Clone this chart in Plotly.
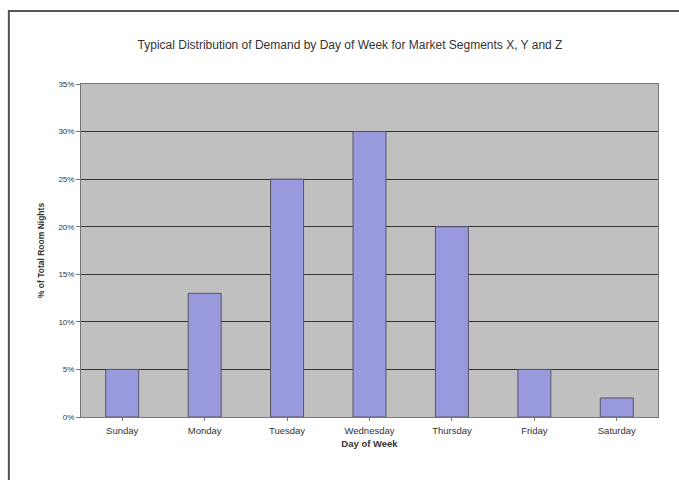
import plotly.graph_objects as go

# Share of total room nights by day of week
days = ["Sunday", "Monday", "Tuesday", "Wednesday", "Thursday", "Friday", "Saturday"]
share = [0.05, 0.13, 0.25, 0.30, 0.20, 0.05, 0.02]
tick_vals = [0, 0.05, 0.10, 0.15, 0.20, 0.25, 0.30, 0.35]
tick_text = ["0%", "5%", "10%", "15%", "20%", "25%", "30%", "35%"]

text_color = "#333333"
family = "Liberation Sans, Arial, sans-serif"

fig = go.Figure(
    go.Bar(
        x=days,
        y=share,
        marker=dict(color="#9999DD", line=dict(color="#555566", width=1)),
        width=0.4,
    )
)

fig.update_layout(
    width=679,
    height=480,
    margin=dict(l=81, r=21, t=84, b=63),
    paper_bgcolor="white",
    plot_bgcolor="#C0C0C0",
    showlegend=False,
    font=dict(family=family, size=8, color=text_color),
    title=dict(
        text="Typical Distribution of Demand by Day of Week for Market Segments X, Y and Z",
        x=(350 - 81) / 577,
        xref="paper",
        xanchor="center",
        y=1 - 45 / 480,
        yanchor="middle",
        font=dict(family=family, size=12, color=text_color),
    ),
    shapes=[
        dict(
            type="rect", xref="paper", yref="paper",
            x0=-0.125, x1=1.2, y0=-0.5, y1=1.219,
            line=dict(color="#555555", width=2), layer="below",
        ),
    ],
)

fig.update_xaxes(
    title=dict(text="<b>Day of Week</b>", font=dict(family=family, size=9.5, color=text_color), standoff=4),
    showgrid=False,
    showline=True,
    linecolor="#777777",
    mirror=True,
    ticks="outside",
    ticklen=3,
    tickcolor="#777777",
    ticklabelstandoff=2,
    tickfont=dict(family=family, size=9.5, color=text_color),
)

fig.update_yaxes(
    title=dict(text="<b>% of Total Room Nights</b>", font=dict(family=family, size=8.5, color=text_color), standoff=12),
    range=[0, 0.35],
    tickvals=tick_vals,
    ticktext=tick_text,
    showgrid=True,
    gridcolor="#333333",
    gridwidth=1,
    zeroline=False,
    showline=True,
    linecolor="#777777",
    mirror=True,
    ticks="outside",
    ticklen=4,
    tickcolor="#777777",
    tickfont=dict(family=family, size=8, color=text_color),
)

fig.write_html("out.html")
